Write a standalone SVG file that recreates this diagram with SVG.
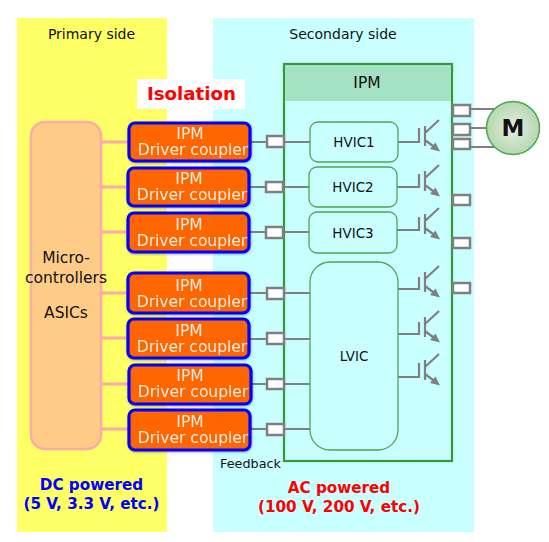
<svg xmlns="http://www.w3.org/2000/svg" width="549" height="542" viewBox="0 0 549 542">
<style>
text{font-family:"DejaVu Sans","Liberation Sans",sans-serif;text-anchor:middle;fill:#111}
.c rect{fill:#FF6600;stroke:#0000FF;stroke-width:3.2}
.c text{fill:#FFEFE6;font-size:15.5px}
.ic{fill:#C9FFFF;stroke:#4EA64E;stroke-width:1.3}
.t{fill:#fff;stroke:#808080;stroke-width:2.500}
.w{fill:none;stroke:#808080;stroke-width:2.200}
.p{fill:none;stroke:#FFA9A9;stroke-width:3}
.b{font-weight:bold;font-size:15.2px}
.l{font-size:13.5px}
</style>
<defs>
<filter id="s" x="-10%" y="-15%" width="120%" height="130%"><feDropShadow dx="0.5" dy="1" stdDeviation="1.2" flood-color="#000" flood-opacity="0.3"/></filter>
<radialGradient id="g"><stop offset="0" stop-color="#E6EEE0"/><stop offset="1" stop-color="#B5D8B0"/></radialGradient>
<g id="tr"><path class="w" d="M425 -10V10M425 -3L439 -16M425 4L435 11.500"/><path d="M440 15.500L430 13L435.500 6.500Z" fill="#808080"/></g>
</defs>
<rect x="17" y="18" width="150" height="514" fill="#FFFF66"/>
<rect x="213" y="18" width="261" height="514" fill="#C9FFFF"/>
<text x="91.500" y="39" font-size="14">Primary side</text>
<text x="343" y="39" font-size="14">Secondary side</text>
<rect x="137" y="79" width="108" height="30" fill="#fff"/>
<text x="191.500" y="100" font-size="18.200" font-weight="bold" style="fill:#FF0000">Isolation</text>
<g id="ipm"><rect x="284" y="64" width="168" height="397" fill="#C9FFFF" stroke="#339933" stroke-width="2.200"/><rect x="285" y="65" width="166" height="36" fill="#A3E2C3"/><text x="367" y="88" font-size="15.500">IPM</text></g>
<g id="connectors">
<path class="p" d="M101 142H128M101 187H128M101 232H128M101 293H128M101 338H128M101 384H128M101 429H128"/>
<path class="w" d="M251 142H267M250 187H266M250 232H266M250 293H266M250 339H266M251 384H267M250 429H267"/>
<path class="w" d="M284 142H310M284 187H309M284 232H309M284 293H310M284 339H310M284 384H310M284 429H310"/>
<path class="w" d="M398 142H419V128M397 187H419V174M397 230H419V217M398 289H419V277M398 334H419V322M398 377H419V363"/>
<path class="w" d="M470 109H495M470 128H490M470 147H495"/>
<use href="#tr" y="136"/><use href="#tr" y="181"/><use href="#tr" y="224"/><use href="#tr" y="282"/><use href="#tr" y="327"/><use href="#tr" y="370"/>
</g>
<g id="mcu"><rect x="31" y="122" width="70" height="327" rx="14" fill="#FFCC88" stroke="#FFA9A9" stroke-width="2.500"/>
<text x="66" y="263" font-size="15.500">Micro-</text><text x="66" y="283" font-size="15.500">controllers</text><text x="66" y="318" font-size="15.500">ASICs</text></g>
<g id="coupler1" class="c" filter="url(#s)"><rect x="129" y="123" width="121" height="38" rx="6"/><text><tspan x="190" y="139">IPM</tspan><tspan x="193" y="155">Driver coupler</tspan></text></g>
<g id="coupler2" class="c" filter="url(#s)"><rect x="128" y="168" width="121" height="38" rx="6"/><text><tspan x="189" y="184">IPM</tspan><tspan x="192" y="200">Driver coupler</tspan></text></g>
<g id="coupler3" class="c" filter="url(#s)"><rect x="128" y="213" width="121" height="39" rx="6"/><text><tspan x="189" y="230">IPM</tspan><tspan x="192" y="246">Driver coupler</tspan></text></g>
<g id="coupler4" class="c" filter="url(#s)"><rect x="128" y="273" width="121" height="40" rx="6"/><text><tspan x="189" y="291">IPM</tspan><tspan x="192" y="307">Driver coupler</tspan></text></g>
<g id="coupler5" class="c" filter="url(#s)"><rect x="128" y="319" width="121" height="39" rx="6"/><text><tspan x="189" y="336">IPM</tspan><tspan x="192" y="352">Driver coupler</tspan></text></g>
<g id="coupler6" class="c" filter="url(#s)"><rect x="129" y="365" width="122" height="39" rx="6"/><text><tspan x="190" y="381">IPM</tspan><tspan x="193" y="397">Driver coupler</tspan></text></g>
<g id="coupler7" class="c" filter="url(#s)"><rect x="129" y="410" width="121" height="40" rx="6"/><text><tspan x="190" y="427">IPM</tspan><tspan x="193" y="443">Driver coupler</tspan></text></g>
<g id="hvic1"><rect class="ic" x="310" y="122" width="88" height="40" rx="8"/><text class="l" x="354" y="147">HVIC1</text></g>
<g id="hvic2"><rect class="ic" x="309" y="167" width="88" height="40" rx="8"/><text class="l" x="353" y="192">HVIC2</text></g>
<g id="hvic3"><rect class="ic" x="309" y="212" width="88" height="41" rx="8"/><text class="l" x="353" y="238">HVIC3</text></g>
<g id="lvic"><rect class="ic" x="310" y="262" width="88" height="188" rx="20"/><text class="l" x="354" y="361">LVIC</text></g>
<g id="terminals">
<rect class="t" x="267" y="136" width="17" height="11"/><rect class="t" x="266" y="182" width="17" height="10"/><rect class="t" x="266" y="227" width="17" height="11"/><rect class="t" x="267" y="288" width="17" height="11"/><rect class="t" x="267" y="333" width="17" height="11"/><rect class="t" x="267" y="379" width="17" height="10"/><rect class="t" x="267" y="424" width="17" height="11"/>
<rect class="t" x="453" y="105" width="17" height="11"/><rect class="t" x="453" y="124" width="17" height="11"/><rect class="t" x="453" y="139" width="17" height="10"/><rect class="t" x="453" y="195" width="17" height="10"/><rect class="t" x="453" y="238" width="17" height="10"/><rect class="t" x="453" y="283" width="17" height="10"/>
</g>
<g id="motor"><circle cx="513" cy="128" r="26.500" fill="url(#g)" stroke="#4EA64E" stroke-width="1.500"/><text x="513" y="135.500" font-size="23" font-weight="bold">M</text></g>
<text x="250.500" y="468" font-size="12.800">Feedback</text>
<text class="b" x="91.500" y="490" style="fill:#0000FF">DC powered</text><text class="b" x="91.500" y="509" style="fill:#0000FF">(5 V, 3.3 V, etc.)</text>
<text class="b" x="339" y="493" style="fill:#FF0000">AC powered</text><text class="b" x="339" y="512" style="fill:#FF0000">(100 V, 200 V, etc.)</text>
</svg>
